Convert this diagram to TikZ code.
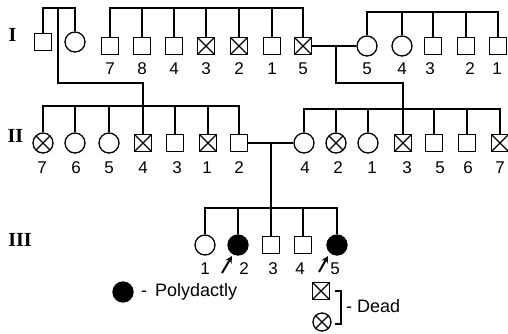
\documentclass[tikz,border=0pt]{standalone}
\usepackage{fontspec}
\setmainfont{Liberation Sans}
\newfontfamily\romfont{Liberation Serif}
\usetikzlibrary{arrows.meta}
\tikzset{
  ln/.style={line width=1.3pt},
  pers/.style={draw, line width=1.3pt, inner sep=0pt},
  sq/.style={pers, rectangle, minimum size=17.5pt},
  ci/.style={pers, circle, minimum size=20pt},
  crossed/.style={path picture={\draw[line width=1.1pt]
      (path picture bounding box.north west) -- (path picture bounding box.south east)
      (path picture bounding box.north east) -- (path picture bounding box.south west);}},
  xsq/.style={sq, crossed},
  xci/.style={ci, crossed},
  fci/.style={ci, fill=black},
  lab/.style={inner sep=0pt, font=\fontsize{17}{17}\selectfont},
  leg/.style={inner sep=0pt, font=\fontsize{18}{18}\selectfont},
  gen/.style={inner sep=0pt, font=\romfont\bfseries\fontsize{20}{20}\selectfont},
  arr/.style={line width=2pt, -{Stealth[length=7pt,width=7pt]}}
}
\begin{document}
\begin{tikzpicture}[x=1pt,y=-1pt]
\useasboundingbox (0,0) rectangle (508,333);
% generation labels
\node[gen] (gI) at (12.5,35) {I};
\node[gen] (gII) at (15.5,136) {II};
\node[gen] (gIII) at (20,240) {III};
% ---------- generation I ----------
\node[sq] (ca) at (43,42) {};
\node[ci] (cb) at (75,42) {};
\node[sq]  (a7) at (110,46) {};
\node[sq]  (a8) at (142,46) {};
\node[sq]  (a4) at (174,46) {};
\node[xsq] (a3) at (206,46) {};
\node[xsq] (a2) at (239,46) {};
\node[sq]  (a1) at (272,46) {};
\node[xsq] (a5) at (303,46) {};
\node[ci]  (r5) at (367,46) {};
\node[ci]  (r4) at (402,46) {};
\node[sq]  (r3) at (433,46) {};
\node[sq]  (r2) at (466,46) {};
\node[sq]  (r1) at (498,46) {};
\foreach \p/\t in {110/7,142/8,174/4,206/3,239/2,272/1,303/5,367/5,402/4,430/3,470/2,497/1}
  \node[lab] at (\p,69) {\t};
% bars generation I
\coordinate (tb0) at (58,8);
\coordinate (tb1) at (110,8);
\coordinate (tb2) at (367,12);
\draw[ln] (ca.north) |- (cb.north |- tb0) -- (cb.north);
\draw[ln] (a7.north) |- (a5.north |- tb1) -- (a5.north);
\foreach \n in {a8,a4,a3,a2,a1} \draw[ln] (\n.north) -- (\n.north |- tb1);
\draw[ln] (r5.north) |- (r1.north |- tb2) -- (r1.north);
\foreach \n in {r4,r3,r2} \draw[ln] (\n.north) -- (\n.north |- tb2);
% descent to generation II
\coordinate (dL) at (143,106);
\coordinate (dR) at (403,109);
\coordinate (mI) at (336,46);
\draw[ln] (tb0) -- (58,83) -| (dL);
\draw[ln] (a5.east) -- (r5.west);
\draw[ln] (mI) -- (336,83) -| (dR);
% ---------- generation II ----------
\node[xci] (L7) at (43,143) {};
\node[ci]  (L6) at (75,143) {};
\node[ci]  (L5) at (109,143) {};
\node[xsq] (L4) at (143,143) {};
\node[sq]  (L3) at (175,143) {};
\node[xsq] (L1) at (208,143) {};
\node[sq]  (L2) at (239,143) {};
\node[ci]  (R4) at (304,143) {};
\node[xci] (R2) at (336,143) {};
\node[ci]  (R1) at (368,143) {};
\node[xsq] (R3) at (403,143) {};
\node[sq]  (R5) at (434,143) {};
\node[sq]  (R6) at (467,143) {};
\node[xsq] (R7) at (500,143) {};
\foreach \p/\t in {42/7,76/6,109/5,143/4,177/3,207/1,239/2,305/4,338/2,372/1,407/3,440/5,468/6,500/7}
  \node[lab] at (\p,168) {\t};
\draw[ln] (L7.north) |- (L2.north |- dL) -- (L2.north);
\foreach \n in {L6,L5,L4,L3,L1} \draw[ln] (\n.north) -- (\n.north |- dL);
\draw[ln] (R4.north) |- (R7.north |- dR) -- (R7.north);
\foreach \n in {R2,R1,R3,R5,R6} \draw[ln] (\n.north) -- (\n.north |- dR);
% descent to generation III
\coordinate (mII) at (271,143);
\coordinate (dIII) at (271,208);
\draw[ln] (L2.east) -- (R4.west);
\draw[ln] (mII) -- (dIII);
% ---------- generation III ----------
\node[ci]  (t1) at (205,245) {};
\node[fci] (t2) at (238,245) {};
\node[sq]  (t3) at (271,245) {};
\node[sq]  (t4) at (303,245) {};
\node[fci] (t5) at (337,245) {};
\foreach \p/\t in {205/1,244/2,273/3,300/4,335/5}
  \node[lab] at (\p,269) {\t};
\draw[ln] (t1.north) |- (t5.north |- dIII) -- (t5.north);
\foreach \n in {t2,t3,t4} \draw[ln] (\n.north) -- (\n.north |- dIII);
% proband arrows
\coordinate (p1s) at (222,273);
\coordinate (p1e) at (232,256);
\coordinate (p2s) at (319,272);
\coordinate (p2e) at (328,256);
\draw[arr] (p1s) -- (p1e);
\draw[arr] (p2s) -- (p2e);
% ---------- legend ----------
\node[fci] (kp) at (123,292) {};
\node[leg, anchor=west] (kpt) at (141,292) {-\hspace{8pt}Polydactly};
\node[xsq, minimum size=17pt] (kd1) at (321,291) {};
\node[xci, minimum size=18pt] (kd2) at (322,322) {};
\coordinate (kb1) at (335,291);
\coordinate (kb2) at (335,324);
\draw[line width=1.2pt] (kb1) -- ++(6,0) -- ++(0,33) -- (kb2);
\node[leg, anchor=west] (kdt) at (346,306) {-\hspace{5pt}Dead};
\end{tikzpicture}
\end{document}
